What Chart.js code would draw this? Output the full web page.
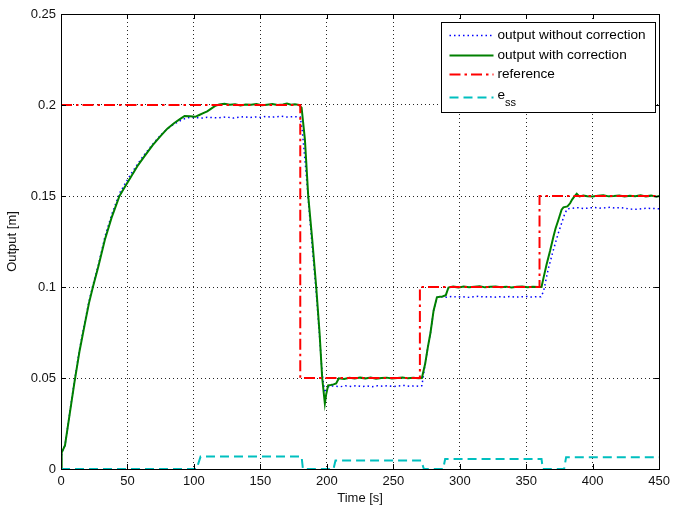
<!DOCTYPE html>
<html><head><meta charset="utf-8">
<script src="https://cdn.jsdelivr.net/npm/chart.js@4.4.1/dist/chart.umd.min.js"></script>
<style>html,body{margin:0;padding:0;background:#fff;}#wrap{width:675px;height:508px;position:relative;}</style>
</head><body><div id="wrap"><canvas id="c" width="675" height="508"></canvas></div>
<script>
// ---- data ----
const xTicks = [0, 50, 100, 150, 200, 250, 300, 350, 400, 450];
const yTicks = [0, 0.05, 0.1, 0.15, 0.2, 0.25];
const yTickLabels = ['0', '0.05', '0.1', '0.15', '0.2', '0.25'];

const withoutTime = [0,0.5,3,6.5,10,14,18,21,24,28,33,38,41,44,48,53,58,63,69,75,80,85,90,94,98,102,106,110,114,118,122,126,130,134,138,142,146,150,154,158,162,166,170,174,178,180,181.5,184,186,189,192,194.5,196.5,198.5,200,202,206,210,214,218,222,226,230,234,238,242,246,250,254,258,262,266,270,271.5,274,276,278,280.3,282.8,286,290,294,298,302,306,310,314,318,322,326,330,334,338,342,346,350,354,358,361,363,366.6,370.4,374.1,376.6,379.1,381,385,389,393,397,401,405,409,413,417,421,425,429,433,437,441,445,450];
const withoutValue = [0,0.009,0.013,0.0305,0.048,0.066,0.081,0.092,0.101,0.1118,0.1275,0.1395,0.1455,0.1515,0.1565,0.1625,0.168,0.173,0.1785,0.1835,0.187,0.1895,0.1915,0.1928,0.1932,0.193,0.1928,0.1933,0.1931,0.1929,0.1934,0.1932,0.1928,0.1933,0.1936,0.1931,0.1934,0.1932,0.1937,0.1933,0.1935,0.1938,0.1934,0.1936,0.1935,0.1934,0.186,0.166,0.148,0.122,0.097,0.073,0.052,0.042,0.044,0.0458,0.0455,0.0452,0.0457,0.0454,0.0458,0.0453,0.0456,0.0452,0.0457,0.0455,0.0458,0.0453,0.0456,0.0459,0.0455,0.0457,0.0454,0.0458,0.058,0.067,0.075,0.087,0.0943,0.0946,0.0944,0.0948,0.0945,0.0947,0.0943,0.0946,0.0949,0.0945,0.0947,0.0944,0.0947,0.0945,0.0948,0.0944,0.0946,0.0948,0.0945,0.0947,0.0946,0.0975,0.11,0.1203,0.1295,0.135,0.1405,0.143,0.1433,0.1436,0.1431,0.1434,0.1437,0.1433,0.1435,0.1438,0.1434,0.1436,0.1432,0.1428,0.1427,0.143,0.1433,0.1431,0.143];

const withTime = [0,0.5,3,6.5,10,14,18,21,24,28,33,38,41,44,48,53,58,63,69,75,80,85,90,93,97,101,104,107,110,113,116,119,123,127,131,135,139,143,147,151,155,159,163,167,170,173,176,179,181,183.5,186,189,192,194.5,196.5,198.5,199.5,201,203,205,207,209,213,217,221,225,229,233,237,241,245,249,253,257,261,265,269,271.5,274,276,278,280.3,282.8,285,287,289.5,291.5,295,299,303,307,311,315,319,323,327,331,335,339,343,347,351,355,359,361.5,363,365.3,368,370.4,372,374.1,376.6,378,381,383,384.5,386,388,390,393,396,400,404,408,412,416,420,424,428,432,436,440,444,448,450];
const withValue = [0,0.009,0.013,0.030,0.047,0.065,0.080,0.091,0.100,0.111,0.126,0.138,0.144,0.150,0.155,0.161,0.167,0.172,0.178,0.183,0.187,0.190,0.1925,0.194,0.1938,0.1935,0.1945,0.1955,0.1965,0.198,0.1995,0.2003,0.2007,0.2001,0.2004,0.1998,0.2003,0.2001,0.2006,0.1999,0.2002,0.2005,0.2,0.2003,0.2008,0.2001,0.2004,0.2001,0.1985,0.181,0.15,0.126,0.1,0.075,0.05,0.036,0.041,0.046,0.0462,0.0465,0.047,0.0498,0.0495,0.0501,0.0497,0.0502,0.0498,0.0503,0.0496,0.05,0.0502,0.0497,0.05,0.0503,0.0498,0.0501,0.0499,0.05,0.058,0.067,0.075,0.087,0.0943,0.0946,0.0948,0.0955,0.0997,0.1002,0.0998,0.1003,0.0999,0.1002,0.1004,0.0998,0.1001,0.1003,0.0999,0.1002,0.0997,0.1001,0.1003,0.0999,0.1002,0.1,0.1,0.105,0.1124,0.12,0.1275,0.132,0.1367,0.1425,0.1438,0.1443,0.146,0.148,0.1495,0.1513,0.1498,0.1503,0.1499,0.1497,0.1502,0.1504,0.1498,0.15,0.1503,0.1497,0.1501,0.1499,0.1504,0.1498,0.1502,0.1496,0.15];

const refTime = [0, 180, 180, 270, 270, 360, 360, 450];
const refValue = [0.2, 0.2, 0.05, 0.05, 0.1, 0.1, 0.15, 0.15];

const essTime = [0, 102, 105, 181, 182, 205, 206.5, 271, 273, 287.5, 289, 361.5, 362.5, 378.5, 380, 450];
const essValue = [0, 0, 0.0068, 0.0068, 0, 0, 0.0047, 0.0047, 0, 0, 0.0055, 0.0055, 0, 0, 0.0065, 0.0065];

const seriesLabels = ['output without correction', 'output with correction', 'reference', 'e_ss'];

// ---- chart ----
const FONT = '"Liberation Sans", Arial, Helvetica, sans-serif';
function pts(t, v) { return t.map((x, i) => ({ x: x, y: v[i] })); }

const framePlugin = {
  id: 'frameTicks',
  afterDatasetsDraw(chart) {
    const ctx = chart.ctx, a = chart.chartArea;
    const xs = chart.scales.x, ys = chart.scales.y;
    const L = 5;
    ctx.save();
    ctx.strokeStyle = '#000';
    ctx.lineWidth = 1;
    ctx.setLineDash([]);
    ctx.beginPath();
    xTicks.forEach(v => {
      const p = Math.round(xs.getPixelForValue(v)) + 0.5;
      ctx.moveTo(p, a.bottom); ctx.lineTo(p, a.bottom - L);
      ctx.moveTo(p, a.top); ctx.lineTo(p, a.top + L);
    });
    yTicks.forEach(v => {
      const p = Math.round(ys.getPixelForValue(v)) + 0.5;
      ctx.moveTo(a.left, p); ctx.lineTo(a.left + L, p);
      ctx.moveTo(a.right, p); ctx.lineTo(a.right - L, p);
    });
    ctx.stroke();
    ctx.strokeRect(Math.round(a.left) + 0.5, Math.round(a.top) + 0.5, Math.round(a.right - a.left), Math.round(a.bottom - a.top));
    ctx.restore();
  },
  afterDraw(chart) {
    const ctx = chart.ctx, a = chart.chartArea;
    const w = 214, h = 90;
    const bx = Math.round(a.right - 4 - w) + 0.5, by = Math.round(a.top + 8) + 0.5;
    ctx.save();
    ctx.fillStyle = '#fff';
    ctx.fillRect(bx, by, w, h);
    ctx.strokeStyle = '#000';
    ctx.lineWidth = 1;
    ctx.setLineDash([]);
    ctx.strokeRect(bx, by, w, h);
    const rows = [12, 32, 51.5, 74];
    chart.data.datasets.forEach((ds, i) => {
      const y = Math.round(by + rows[i]) + 0.5;
      ctx.save();
      ctx.strokeStyle = ds.borderColor;
      ctx.lineWidth = ds.borderWidth;
      ctx.setLineDash(ds.borderDash || []);
      ctx.beginPath();
      ctx.moveTo(bx + 8, y); ctx.lineTo(bx + 52, y);
      ctx.stroke();
      ctx.restore();
      ctx.fillStyle = '#000';
      ctx.textBaseline = 'middle';
      ctx.textAlign = 'left';
      ctx.font = '13.6px ' + FONT;
      const tx = bx + 56;
      if (ds.label.indexOf('_') >= 0) {
        const parts = ds.label.split('_');
        ctx.fillText(parts[0], tx, y - 2);
        const wE = ctx.measureText(parts[0]).width;
        ctx.font = '11px ' + FONT;
        ctx.fillText(parts[1], tx + wE, y + 5);
      } else {
        ctx.fillText(ds.label, tx, y);
      }
    });
    ctx.restore();
  }
};

new Chart(document.getElementById('c'), {
  type: 'line',
  data: {
    datasets: [
      { label: seriesLabels[0], data: pts(withoutTime, withoutValue), borderColor: '#0000ff', borderWidth: 1.5, borderDash: [1.5, 3], order: 4 },
      { label: seriesLabels[1], data: pts(withTime, withValue), borderColor: '#008000', borderWidth: 2, borderDash: [], order: 3 },
      { label: seriesLabels[2], data: pts(refTime, refValue), borderColor: '#ff0000', borderWidth: 2, borderDash: [11, 4, 2.5, 4], order: 2 },
      { label: seriesLabels[3], data: pts(essTime, essValue), borderColor: '#00bfbf', borderWidth: 2, borderDash: [9, 5], order: 1 }
    ]
  },
  options: {
    responsive: false,
    animation: false,
    devicePixelRatio: 1,
    layout: { padding: { top: 14, right: 13, left: 0, bottom: 0 } },
    elements: { point: { radius: 0 }, line: { tension: 0, fill: false } },
    plugins: { legend: { display: false }, tooltip: { enabled: false } },
    scales: {
      x: {
        type: 'linear', min: 0, max: 450,
        afterBuildTicks: s => { s.ticks = xTicks.map(v => ({ value: v })); },
        afterFit: s => { s.height = 39; },
        ticks: { color: '#111', font: { family: FONT, size: 13 }, padding: 5, maxRotation: 0, autoSkip: false },
        grid: { color: 'rgba(0,0,0,0.85)', lineWidth: 1, drawTicks: false },
        border: { display: false, dash: [1, 3] },
        title: { display: true, text: 'Time [s]', color: '#111', font: { family: FONT, size: 13 }, padding: { top: 0, bottom: 2 } }
      },
      y: {
        type: 'linear', min: 0, max: 0.25,
        afterBuildTicks: s => { s.ticks = yTicks.map(v => ({ value: v })); },
        afterFit: s => { s.width = 61; },
        ticks: { color: '#111', font: { family: FONT, size: 13 }, padding: 5, autoSkip: false,
                 callback: (v) => yTickLabels[yTicks.indexOf(v)] !== undefined ? yTickLabels[yTicks.indexOf(v)] : String(v) },
        grid: { color: 'rgba(0,0,0,0.85)', lineWidth: 1, drawTicks: false },
        border: { display: false, dash: [1, 3] },
        title: { display: true, text: 'Output [m]', color: '#111', font: { family: FONT, size: 13 }, padding: { top: 5, bottom: 0 } }
      }
    }
  },
  plugins: [framePlugin]
});
</script></body></html>
